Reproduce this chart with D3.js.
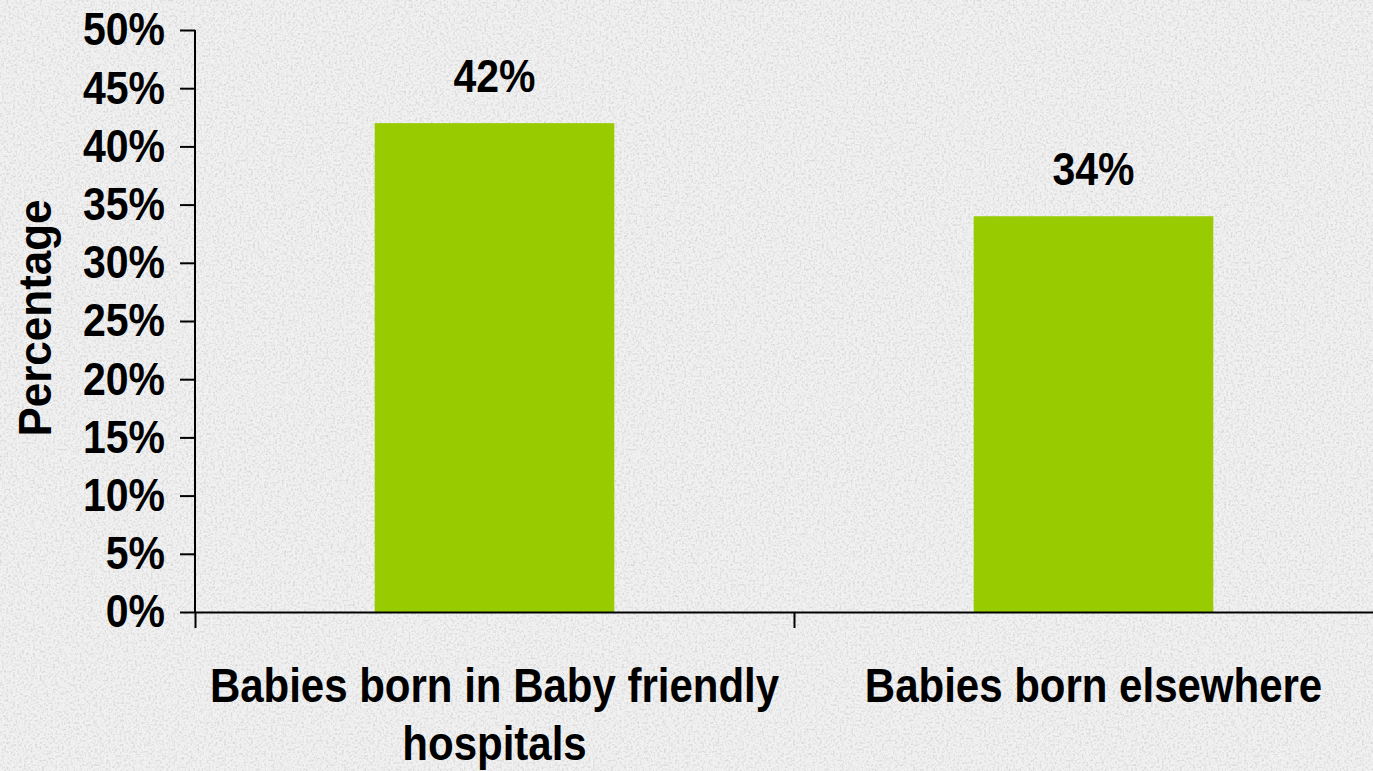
<!DOCTYPE html>
<html>
<head>
<meta charset="utf-8">
<script src="https://cdn.jsdelivr.net/npm/d3@7"></script>
<style>
  html, body { margin: 0; padding: 0; overflow: hidden; }
  #canvas { width: 1373px; height: 771px; }
  text { font-family: "Liberation Sans", Arial, sans-serif; font-weight: bold; fill: #000; }
</style>
</head>
<body>
<div id="canvas" class="canvas"></div>
<script>
// data
var categories = [['Babies born in Baby friendly', 'hospitals'], ['Babies born elsewhere']];
var values = [42, 34];
var yTicks = [0, 5, 10, 15, 20, 25, 30, 35, 40, 45, 50];

var W = 1373, H = 771;
var svg = d3.select('.canvas')
    .append('svg')
    .attr('width', W)
    .attr('height', H);

// granite-like background
var defs = svg.append('defs');
var f = defs.append('filter').attr('id', 'grain')
    .attr('x', 0).attr('y', 0).attr('width', '100%').attr('height', '100%');
f.append('feTurbulence')
    .attr('type', 'fractalNoise')
    .attr('baseFrequency', 0.45)
    .attr('numOctaves', 3)
    .attr('seed', 4);
f.append('feColorMatrix')
    .attr('type', 'matrix')
    .attr('values', '0 0 0 0 0.7  0 0 0 0 0.7  0 0 0 0 0.7  3.2 0 0 0 -1.45');
f.append('feComposite').attr('in2', 'SourceGraphic').attr('operator', 'in');

svg.append('rect').attr('width', W).attr('height', H).attr('fill', '#f1f1f1');
svg.append('rect').attr('width', W).attr('height', H).attr('fill', '#fff').attr('filter', 'url(#grain)');

// scales
var scaleY = d3.scaleLinear().domain([0, 50]).range([612, 30]);
var scaleX = d3.scaleBand().domain(d3.range(values.length)).range([195, 1393]).padding(0);
var barW = scaleX.bandwidth() * 0.4;

// bars
svg.selectAll('.bar')
    .data(values)
    .enter()
    .append('rect')
    .attr('class', 'bar')
    .attr('x', function(d, i){ return scaleX(i) + (scaleX.bandwidth() - barW) / 2; })
    .attr('y', function(d){ return scaleY(d); })
    .attr('width', barW)
    .attr('height', function(d){ return scaleY(0) - scaleY(d); })
    .attr('fill', '#99cc00');

// value labels
svg.selectAll('.val')
    .data(values)
    .enter()
    .append('text')
    .attr('class', 'val')
    .attr('text-anchor', 'middle')
    .style('font-size', '41px')
    .attr('transform', function(d, i){
        return 'translate(' + (scaleX(i) + scaleX.bandwidth() / 2) + ',' + (scaleY(d) - 31) + ') scale(1,1.14)';
    })
    .text(function(d){ return d + '%'; });

// y axis
var axisY = d3.axisLeft(scaleY)
    .tickValues(yTicks)
    .tickSize(15)
    .tickPadding(15)
    .tickFormat(function(d){ return d + '%'; });

var gy = svg.append('g')
    .attr('class', 'axis axis-y')
    .attr('transform', 'translate(195,0)')
    .call(axisY);
gy.select('.domain').attr('stroke', '#000').attr('stroke-width', 2).attr('d', 'M0,30V612');
gy.selectAll('line').attr('stroke', '#000').attr('stroke-width', 2);
gy.selectAll('text')
    .attr('font-family', null).attr('font-size', null)
    .style('font-size', '41px')
    .attr('transform', 'scale(1,1.14)');

// x axis (boundary ticks)
var xLin = d3.scaleLinear().domain([0, values.length]).range(scaleX.range());
var axisX = d3.axisBottom(xLin)
    .tickValues(d3.range(values.length + 1))
    .tickSize(16)
    .tickSizeOuter(0)
    .tickFormat('');
var gx = svg.append('g')
    .attr('class', 'axis axis-x')
    .attr('transform', 'translate(0,' + scaleY(0) + ')')
    .call(axisX);
gx.select('.domain').attr('stroke', '#000').attr('stroke-width', 2);
gx.selectAll('line').attr('stroke', '#000').attr('stroke-width', 2);

// category labels
categories.forEach(function(lines, i){
    lines.forEach(function(t, j){
        svg.append('text')
            .attr('text-anchor', 'middle')
            .style('font-size', '42px')
            .attr('transform', 'translate(' + (scaleX(i) + scaleX.bandwidth() / 2) + ',' + (702 + j * 58) + ') scale(1,1.16)')
            .text(t);
    });
});

// y title
svg.append('text')
    .attr('text-anchor', 'middle')
    .style('font-size', '44px')
    .attr('transform', 'translate(51,318) rotate(-90) scale(1,1.06)')
    .text('Percentage');
</script>
</body>
</html>
